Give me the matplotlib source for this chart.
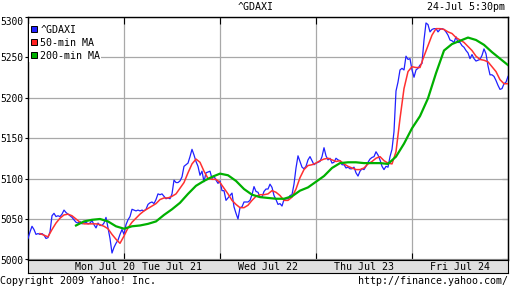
import numpy as np
import matplotlib.pyplot as plt
from matplotlib.lines import Line2D

# ^GDAXI intraday 20-24 Jul 2009, x axis = trading days since Monday's open
gdaxi_mon = [5026, 5034, 5041, 5037, 5031, 5032, 5031, 5032, 5030, 5026, 5027, 5034,
             5054, 5057, 5053, 5054, 5053, 5056, 5061, 5058, 5056, 5054, 5052, 5049,
             5046, 5045, 5047, 5044, 5045, 5046, 5044, 5045, 5048, 5043, 5039, 5045,
             5042, 5042, 5045, 5052, 5039, 5026, 5008, 5015, 5020, 5024, 5031, 5037]
gdaxi_tue = [5031, 5043, 5049, 5053, 5062, 5061, 5060, 5061, 5060, 5061, 5060, 5062,
             5068, 5070, 5071, 5069, 5074, 5081, 5080, 5081, 5078, 5075, 5076, 5075,
             5081, 5098, 5095, 5095, 5097, 5102, 5115, 5117, 5119, 5127, 5136, 5129,
             5121, 5115, 5104, 5109, 5096, 5107, 5108, 5109, 5100, 5103, 5098, 5094]
gdaxi_wed = [5097, 5085, 5085, 5073, 5076, 5079, 5082, 5065, 5057, 5050, 5064, 5065,
             5071, 5071, 5071, 5073, 5080, 5090, 5084, 5083, 5077, 5077, 5084, 5087,
             5087, 5093, 5089, 5079, 5074, 5068, 5069, 5066, 5074, 5075, 5075, 5079,
             5080, 5093, 5113, 5128, 5121, 5114, 5112, 5115, 5123, 5127, 5122, 5117]
gdaxi_thu = [5119, 5120, 5121, 5127, 5138, 5128, 5123, 5125, 5119, 5120, 5125, 5123,
             5122, 5117, 5117, 5113, 5114, 5112, 5112, 5114, 5107, 5103, 5109, 5112,
             5111, 5115, 5120, 5124, 5126, 5127, 5133, 5129, 5123, 5115, 5111, 5115,
             5114, 5127, 5136, 5158, 5208, 5219, 5234, 5236, 5234, 5251, 5247, 5248]
gdaxi_fri = [5234, 5225, 5234, 5236, 5240, 5242, 5271, 5292, 5290, 5281, 5284, 5285,
             5285, 5281, 5284, 5285, 5284, 5281, 5277, 5271, 5270, 5268, 5275, 5268,
             5268, 5264, 5262, 5258, 5255, 5248, 5253, 5248, 5245, 5246, 5247, 5252,
             5260, 5254, 5239, 5228, 5228, 5226, 5221, 5215, 5210, 5211, 5217, 5219, 5226]

ma50 = [5032, 5030, 5028, 5037, 5045, 5051, 5055, 5056, 5054, 5050, 5046, 5044,
        5044, 5044, 5044, 5043, 5041, 5038, 5031, 5025, 5020,
        5029, 5039, 5046, 5051, 5056, 5060, 5063, 5066, 5069, 5074, 5076, 5076,
        5078, 5081, 5088, 5095, 5107, 5118, 5124, 5120, 5109, 5100, 5099, 5099,
        5095, 5088, 5081, 5073, 5068, 5064, 5064, 5067, 5073, 5078, 5080, 5080,
        5081, 5085, 5083, 5079, 5073, 5073, 5077, 5087, 5101, 5111, 5116, 5117,
        5119, 5122, 5124, 5125, 5123, 5121, 5122, 5118, 5115, 5113, 5111, 5111,
        5113, 5118, 5121, 5125, 5127, 5122, 5119, 5118, 5133, 5174, 5211, 5232,
        5238, 5237, 5237, 5251, 5264, 5277, 5285, 5285, 5284, 5281, 5279, 5274,
        5271, 5268, 5263, 5258, 5251, 5247, 5246, 5244, 5238, 5232, 5222, 5217, 5217]

ma200 = [5042, 5047, 5049, 5050, 5047, 5041,
         5038, 5041, 5042, 5044, 5047, 5055, 5062, 5070, 5081, 5091, 5097, 5102,
         5106, 5104, 5097, 5087, 5080, 5077, 5076, 5075, 5075, 5078, 5085, 5089,
         5096, 5103, 5113, 5119, 5120, 5120, 5119, 5119, 5119, 5118, 5127, 5143,
         5162, 5177, 5199, 5230, 5258, 5266, 5270, 5274, 5271, 5265, 5256, 5248, 5240]

day_labels = ['Mon Jul 20', 'Tue Jul 21', 'Wed Jul 22', 'Thu Jul 23', 'Fri Jul 24']
day_label_pos = [0.8, 1.5, 2.5, 3.5, 4.5]
yticks = [5000, 5050, 5100, 5150, 5200, 5250, 5300]

gdaxi = np.array(gdaxi_mon + gdaxi_tue + gdaxi_wed + gdaxi_thu + gdaxi_fri)
t_gdaxi = np.arange(len(gdaxi)) / 48
t_ma50 = (np.arange(len(ma50)) + 3) / 24
t_ma200 = (np.arange(len(ma200)) + 6) / 12

plt.rcParams['font.family'] = ['DejaVu Sans Mono']
plt.rcParams['font.size'] = 7.2

fig = plt.figure(figsize=(5.12, 2.88), dpi=100)
ax = fig.add_axes([28/512, 28.5/288, 480/512, 243/288])

ax.plot(t_gdaxi, gdaxi, color='#2020ff', lw=0.9, zorder=3)
ax.plot(t_ma50, ma50, color='#ff3030', lw=1.1, zorder=4)
ax.plot(t_ma200, ma200, color='#00b000', lw=1.6, zorder=5)

ax.set_xlim(0, 5)
ax.set_ylim(5000, 5300)
ax.set_yticks(yticks)
ax.set_xticks([1, 2, 3, 4])
ax.set_xticklabels([])
ax.grid(True, color='#a8a8a8', lw=0.9)
ax.set_axisbelow(True)
ax.tick_params(axis='x', direction='in', length=5, width=0.8, top=True, bottom=True)
ax.tick_params(axis='y', direction='out', length=2.5, width=0.8, pad=0.6, labelsize=6.9)
ax.yaxis.get_major_ticks()[-1].label1.set_verticalalignment('top')
for s in ax.spines.values():
    s.set_linewidth(1.0)

sec = ax.secondary_yaxis('right')
sec.set_yticks(yticks)
sec.tick_params(direction='in', length=4, width=0.8, labelright=False)

handles = [Line2D([], [], ls='', marker='s', markersize=5, markerfacecolor=c,
                  markeredgecolor='black', markeredgewidth=0.7)
           for c in ['#2020ff', '#ff2020', '#00b000']]
leg = ax.legend(handles, ['^GDAXI', '50-min MA', '200-min MA'], loc='upper left',
                bbox_to_anchor=(0.003, 0.97), borderaxespad=0, borderpad=0.1,
                handlelength=0.7, handletextpad=0.3, labelspacing=0.3,
                frameon=True, fancybox=False, framealpha=1, facecolor='white',
                edgecolor='none')
leg.set_zorder(10)

band = fig.add_axes([28/512, 15/288, 480/512, 13.5/288])
band.set_facecolor('#e0e0e0')
band.set_xlim(0, 5)
band.set_ylim(0, 1)
band.set_xticks([])
band.set_yticks([])
for pos, lab in zip(day_label_pos, day_labels):
    band.text(pos, 0.45, lab, ha='center', va='center')

fig.text(0.5, 1 - 7/288, '^GDAXI', ha='center', va='center')
fig.text(505/512, 1 - 7/288, '24-Jul 5:30pm', ha='right', va='center')
fig.text(0, 1 - 281/288, 'Copyright 2009 Yahoo! Inc.', ha='left', va='center')
fig.text(508/512, 1 - 281/288, 'http://finance.yahoo.com/', ha='right', va='center')

fig.savefig('out.png', dpi=100)
